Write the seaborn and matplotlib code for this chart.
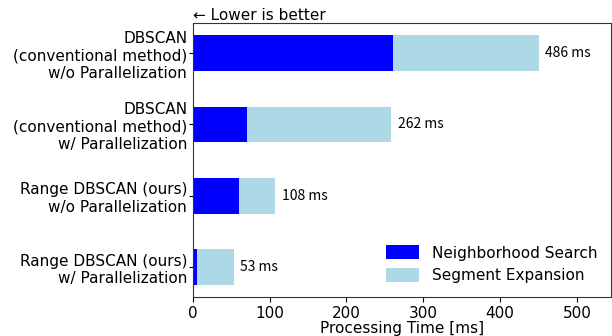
import matplotlib
matplotlib.use('Agg')
import matplotlib.pyplot as plt
import numpy as np
import pandas as pd
import seaborn as sns


# Data
methods = ['DBSCAN\n(conventional method)\nw/o Parallelization',
           'DBSCAN\n(conventional method)\nw/ Parallelization',
           'Range DBSCAN (ours)\nw/o Parallelization',
           'Range DBSCAN (ours)\nw/ Parallelization']
neighborhood_search = [261, 70, 60, 5]
segment_expansion = [189, 188, 47, 48]
total_labels = ['486 ms', '262 ms', '108 ms', '53 ms']

df = pd.DataFrame({'method': methods,
                   'neighborhood': neighborhood_search,
                   'segment': segment_expansion})
df['total'] = df['neighborhood'] + df['segment']

plt.rcParams['font.size'] = 11

fig, ax = plt.subplots(figsize=(6.12, 3.36), dpi=100)
fig.subplots_adjust(left=0.315, right=0.998, top=0.931, bottom=0.116)

# Stacked bars: full length in light blue, neighborhood part drawn on top
sns.barplot(data=df, x='total', y='method', color='lightblue', saturation=1,
            width=0.5, label='Segment Expansion', ax=ax)
sns.barplot(data=df, x='neighborhood', y='method', color='blue', saturation=1,
            width=0.5, label='Neighborhood Search', ax=ax)

ax.bar_label(ax.containers[0], labels=total_labels, padding=5,
             fontsize=10, family=['Noto Sans CJK JP', 'DejaVu Sans'])

ax.set_xlim(0, 544)
ax.set_ylim(len(methods) - 1 + 0.42, -0.42)
ax.set_xlabel('Processing Time [ms]', fontsize=11, labelpad=0)
ax.set_ylabel('')
ax.set_title('← Lower is better', loc='left', fontsize=11, pad=2)
ax.tick_params(axis='x', labelsize=11, pad=3)
ax.tick_params(axis='y', labelsize=11, pad=1, length=3)
for spine in ax.spines.values():
    spine.set_color('#333333')

handles, labels = ax.get_legend_handles_labels()
ax.legend(handles[::-1], labels[::-1], loc='lower right', frameon=False,
          fontsize=11, handlelength=2.2, handleheight=1.0)

plt.savefig('out.png', dpi=100)
